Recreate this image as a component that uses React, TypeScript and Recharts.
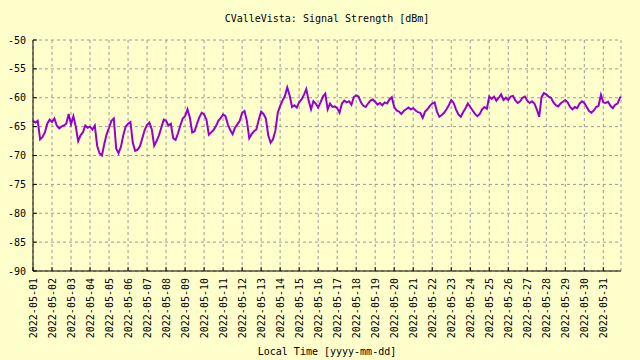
import { CartesianGrid, Line, LineChart, XAxis, YAxis } from 'recharts'

const chartTitle = 'CValleVista: Signal Strength [dBm]'
const xTitle = 'Local Time [yyyy-mm-dd]'

// one label per day, May 2022
const dateLabels = [
  '2022-05-01', '2022-05-02', '2022-05-03', '2022-05-04', '2022-05-05', '2022-05-06',
  '2022-05-07', '2022-05-08', '2022-05-09', '2022-05-10', '2022-05-11', '2022-05-12',
  '2022-05-13', '2022-05-14', '2022-05-15', '2022-05-16', '2022-05-17', '2022-05-18',
  '2022-05-19', '2022-05-20', '2022-05-21', '2022-05-22', '2022-05-23', '2022-05-24',
  '2022-05-25', '2022-05-26', '2022-05-27', '2022-05-28', '2022-05-29', '2022-05-30',
  '2022-05-31',
]
const dayTicks = [
  0, 1, 2, 3, 4, 5, 6, 7, 8, 9, 10, 11, 12, 13, 14, 15, 16, 17, 18, 19, 20, 21, 22, 23, 24, 25,
  26, 27, 28, 29, 30,
]
const dbmTicks = [-90, -85, -80, -75, -70, -65, -60, -55, -50]

// samples every 3 hours, in dBm
const week1 = [
  -64.0, -64.3, -64.0, -67.2, -66.8, -66.0, -64.5, -63.8,
  -64.2, -63.6, -64.8, -65.3, -65.0, -64.8, -64.5, -62.8,
  -64.6, -63.2, -65.0, -67.5, -66.5, -66.0, -64.8, -65.2,
  -65.0, -65.5, -64.8, -68.3, -69.6, -70.0, -68.0, -66.3,
  -65.2, -64.0, -63.6, -68.8, -69.6, -68.5, -66.5, -65.0,
  -64.5, -64.2, -67.8, -69.2, -69.0, -68.4, -67.0, -65.6,
  -64.7, -64.3, -65.5, -68.3, -67.5, -66.5, -65.2, -63.8,
]
const week2 = [
  -64.0, -64.8, -64.5, -67.0, -67.3, -66.2, -64.8, -63.6,
  -63.2, -62.0, -63.4, -66.0, -65.8, -64.5, -63.4, -62.6,
  -62.9, -63.8, -66.4, -66.0, -65.6, -64.9, -64.0, -63.5,
  -62.9, -63.2, -64.6, -65.6, -66.3, -65.2, -64.6, -64.0,
  -62.6, -62.3, -64.0, -67.0, -66.3, -65.8, -65.5, -63.8,
  -62.4, -62.8, -63.6, -66.5, -67.8, -67.2, -65.7, -62.6,
  -61.4, -60.5, -59.7, -58.2, -59.6, -61.6, -61.3, -61.7,
]
const week3 = [
  -60.8, -60.3, -59.5, -58.5, -60.5, -62.0, -60.6, -61.0,
  -61.7, -60.8, -59.8, -59.3, -62.0, -61.0, -61.6, -61.5,
  -61.8, -62.6, -61.0, -60.5, -60.8, -60.6, -61.2, -59.9,
  -59.6, -59.8, -60.8, -61.4, -61.6, -61.0, -60.5, -60.3,
  -60.7, -61.2, -60.9, -61.3, -60.8, -61.0, -60.3, -59.9,
  -61.6, -62.2, -62.4, -62.8, -62.3, -62.0, -61.7, -62.0,
  -61.8, -62.2, -62.5, -62.6, -63.5, -62.4, -62.0, -61.4,
]
const week4 = [
  -61.0, -60.8, -62.4, -63.3, -63.0, -62.6, -62.0, -61.3,
  -60.4, -60.9, -62.0, -62.9, -63.3, -62.5, -61.8, -61.0,
  -61.6, -62.2, -62.8, -63.2, -62.8, -62.0, -61.6, -61.9,
  -59.8, -60.2, -59.8, -60.5, -60.0, -59.4, -60.4, -60.0,
  -60.4, -59.8, -59.7, -60.5, -60.9, -60.6, -60.0, -59.8,
  -60.5, -60.9, -60.6, -61.0, -62.0, -63.3, -59.9, -59.2,
  -59.4, -59.8, -60.0, -60.8, -61.3, -61.5, -61.0, -60.7,
]
const week5 = [
  -60.4, -60.8, -61.6, -62.0, -61.6, -61.8, -61.0, -60.6,
  -60.9, -61.6, -62.3, -62.6, -62.2, -61.6, -61.4, -59.5,
  -60.8, -60.9, -60.7, -61.4, -61.8, -61.2, -61.0, -60.0,
]
const lastSampleDay = 30.93
const lastSampleDbm = -59.8

const stepDays = 3 / 24
const samples = [...week1, ...week2, ...week3, ...week4, ...week5].map((v, i) => ({
  t: i * stepDays,
  v,
}))
samples.push({ t: lastSampleDay, v: lastSampleDbm })

const font = "'DejaVu Sans Mono', monospace"
const bg = '#ffffcc'

const DateTick = (props: { x?: number; y?: number; payload?: { value: number } }) => {
  const { x = 0, y = 0, payload } = props
  const label = dateLabels[payload?.value ?? 0]
  return (
    <g transform={`translate(${x},${y})`}>
      <text transform="rotate(-90)" textAnchor="end" dy="0.35em" fontSize={10} fontFamily={font} fill="#000">
        {label}
      </text>
    </g>
  )
}

export default function App() {
  return (
    <div style={{ position: 'absolute', left: 0, top: 0, width: 640, height: 360, background: bg }}>
      <LineChart
        width={640}
        height={360}
        data={samples}
        margin={{ top: 40, right: 19, bottom: 0, left: 0 }}
      >
        <CartesianGrid stroke="#9a9a9a" strokeDasharray="3 3" />
        <XAxis
          dataKey="t"
          type="number"
          domain={[0, lastSampleDay]}
          ticks={dayTicks}
          interval={0}
          height={89}
          stroke="#000"
          tickSize={-4}
          tickMargin={11}
          tick={<DateTick />}
        />
        <XAxis
          xAxisId="top"
          dataKey="t"
          type="number"
          orientation="top"
          domain={[0, lastSampleDay]}
          ticks={dayTicks}
          interval={0}
          height={0}
          stroke="#000"
          tickSize={-4}
          tick={false}
        />
        <YAxis
          type="number"
          domain={[-90, -50]}
          ticks={dbmTicks}
          interval={0}
          width={33}
          stroke="#000"
          tickSize={-4}
          tickMargin={11}
          tick={{ fontSize: 10, fontFamily: font, fill: '#000' }}
        />
        <YAxis
          yAxisId="right"
          orientation="right"
          type="number"
          domain={[-90, -50]}
          ticks={dbmTicks}
          interval={0}
          width={0}
          stroke="#000"
          tickSize={-4}
          tick={false}
        />
        <Line
          type="linear"
          dataKey="v"
          stroke="#9400d3"
          strokeWidth={2}
          dot={false}
          isAnimationActive={false}
        />
      </LineChart>
      <div
        style={{
          position: 'absolute',
          top: 12,
          left: 33,
          width: 588,
          textAlign: 'center',
          fontFamily: font,
          fontSize: 10,
          lineHeight: '14px',
        }}
      >
        {chartTitle}
      </div>
      <div
        style={{
          position: 'absolute',
          top: 345,
          left: 33,
          width: 588,
          textAlign: 'center',
          fontFamily: font,
          fontSize: 10,
          lineHeight: '14px',
        }}
      >
        {xTitle}
      </div>
    </div>
  )
}
